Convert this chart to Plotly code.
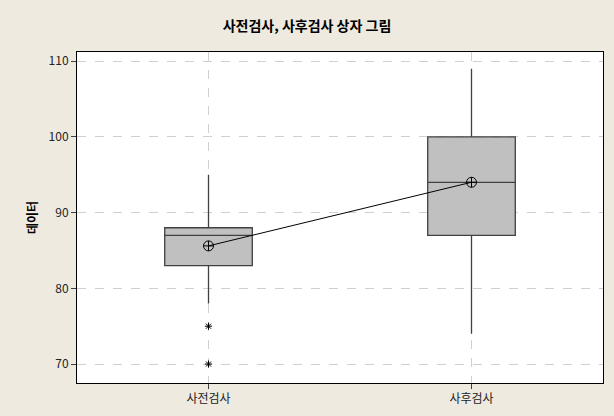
import plotly.graph_objects as go

categories = ["사전검사", "사후검사"]
q1 = [83, 87]
median = [87, 94]
q3 = [88, 100]
lower_whisker = [78, 74]
upper_whisker = [95, 109]
means = [85.6, 94.0]
outlier_cat = ["사전검사", "사전검사"]
outlier_val = [75, 70]
y_ticks = [70, 80, 90, 100, 110]

font_family = "Noto Sans CJK KR, Noto Sans, sans-serif"

fig = go.Figure()
for i, c in enumerate(categories):
    fig.add_trace(go.Box(
        x=[c], q1=[q1[i]], median=[median[i]], q3=[q3[i]],
        lowerfence=[lower_whisker[i]], upperfence=[upper_whisker[i]],
        boxpoints=False, width=0.333, whiskerwidth=0,
        fillcolor="#C0C0C0", line=dict(color="#404040", width=1.3),
        showlegend=False, hoverinfo="skip",
    ))

fig.add_trace(go.Scatter(
    x=categories, y=means, mode="lines+markers",
    line=dict(color="black", width=1),
    marker=dict(symbol="circle-cross-open", size=10, color="black", line=dict(width=1)),
    showlegend=False,
))
fig.add_trace(go.Scatter(
    x=outlier_cat, y=outlier_val, mode="markers",
    marker=dict(symbol="asterisk-open", size=6, color="black", line=dict(width=1, color="black")),
    showlegend=False,
))

fig.update_layout(
    width=614, height=416,
    margin=dict(l=77, r=10, t=52, b=30),
    paper_bgcolor="#EEEAE0", plot_bgcolor="white",
    font=dict(family=font_family, size=12, color="black"),
    title=dict(text="<b>사전검사, 사후검사 상자 그림</b>", x=0.5, xanchor="center",
               y=1 - 26 / 416, yanchor="middle", font=dict(size=14, color="black")),
    showlegend=False,
)
fig.update_xaxes(
    type="category", range=[-0.5, 1.5],
    showgrid=True, gridcolor="#D0D0D0", griddash="dash", gridwidth=1,
    ticks="outside", ticklen=5, tickcolor="#404040",
    showline=True, linecolor="black", linewidth=1, mirror=True,
    tickfont=dict(size=12, color="#222"),
)
fig.update_yaxes(
    range=[67.5, 111.2], tickvals=y_ticks,
    showgrid=True, gridcolor="#D0D0D0", griddash="dash", gridwidth=1,
    ticks="outside", ticklen=5, tickcolor="#404040",
    showline=True, linecolor="black", linewidth=1, mirror=True,
    zeroline=False,
    tickfont=dict(size=12, color="#222"),
    title=dict(text="<b>데이터</b>", font=dict(size=12), standoff=8),
)

fig.write_html("out.html")
